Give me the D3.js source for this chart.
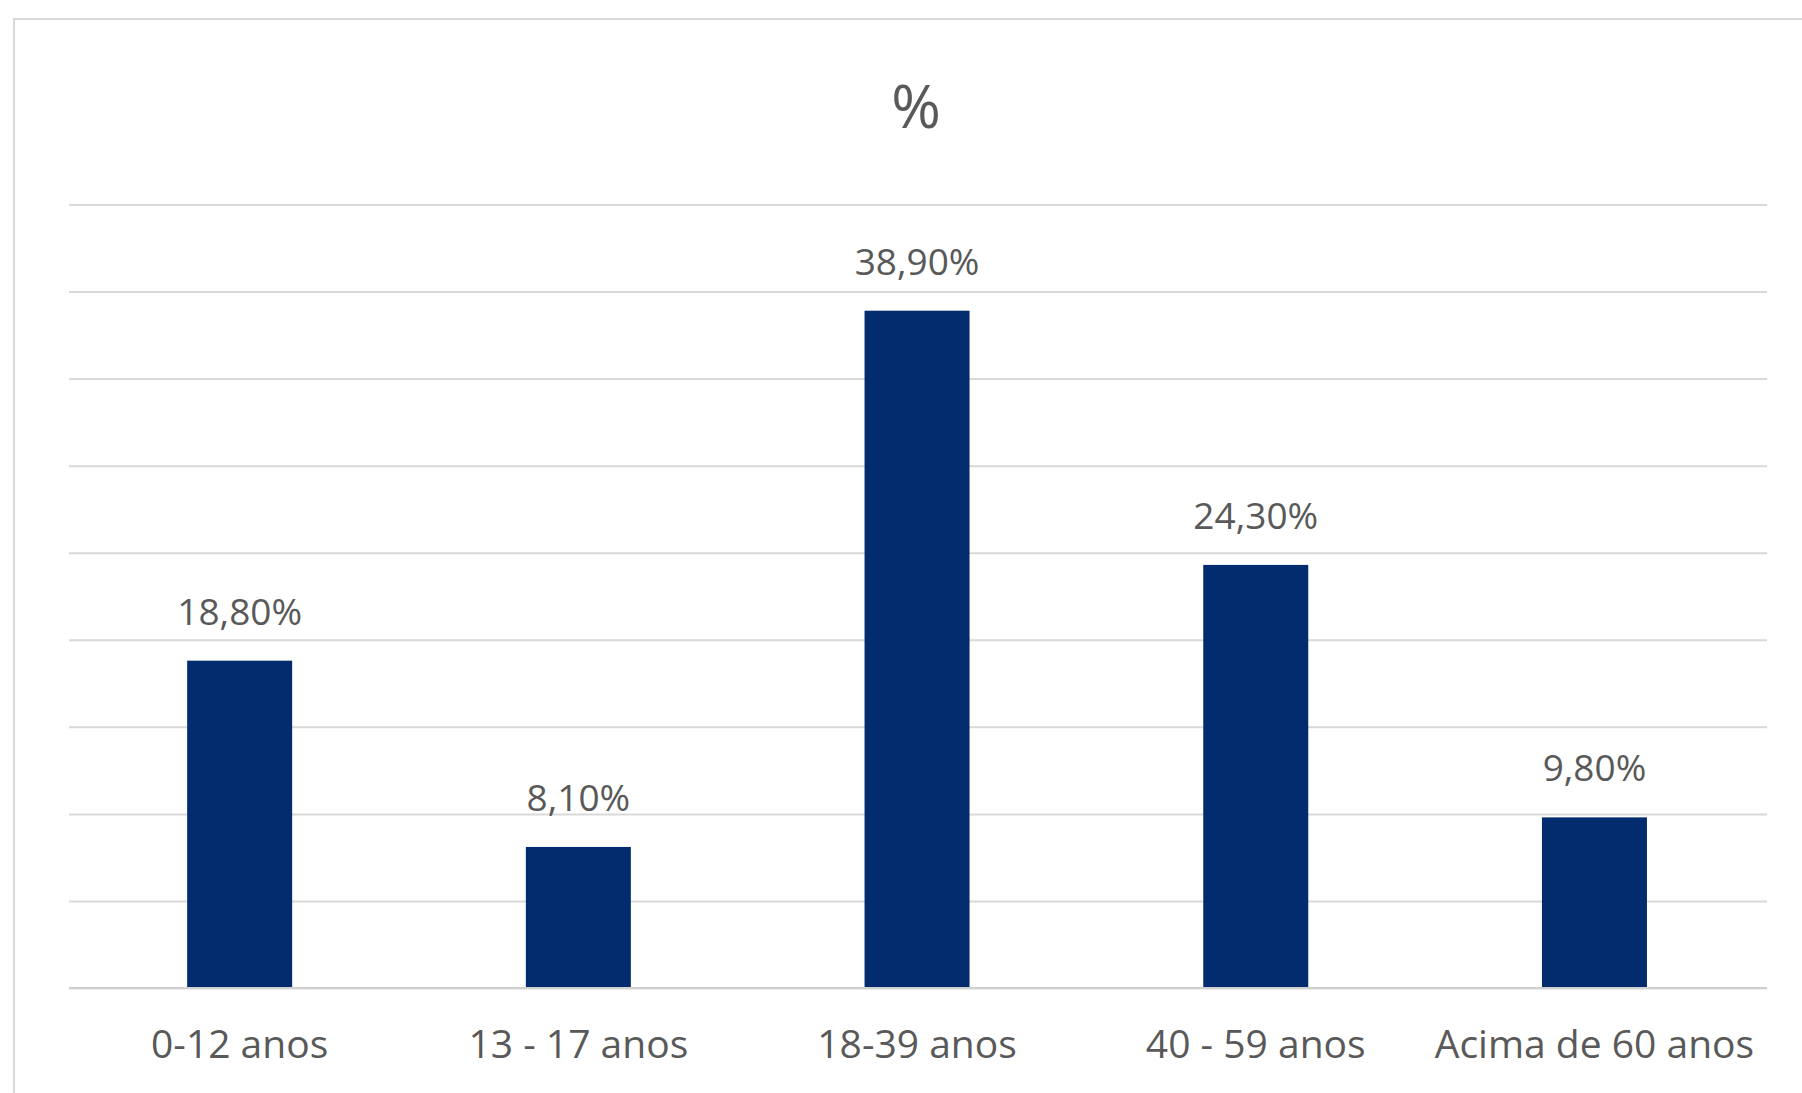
<!DOCTYPE html>
<html>
<head>
<meta charset="utf-8">
<script src="https://cdn.jsdelivr.net/npm/d3@7"></script>
<style>
  html, body { margin: 0; padding: 0; background: #ffffff; }
  svg { display: block; }
</style>
</head>
<body>
<svg id="chart" width="1802" height="1093"></svg>
<script>
// Age groups and their share (%)
const categories = ["0-12 anos", "13 - 17 anos", "18-39 anos", "40 - 59 anos", "Acima de 60 anos"];
const values = [18.8, 8.1, 38.9, 24.3, 9.8];
const valueLabels = ["18,80%", "8,10%", "38,90%", "24,30%", "9,80%"];
const gridTicks = [0, 5, 10, 15, 20, 25, 30, 35, 40, 45];
const title = "%";

const svg = d3.select("#chart");
const W = 1802, H = 1093;
const plot = { left: 69, right: 1767, top: 204.5, bottom: 988 };
const font = "'Open Sans', 'Liberation Sans', sans-serif";

// Chart frame
svg.append("rect")
  .attr("x", 14).attr("y", 19)
  .attr("width", W + 20).attr("height", H + 20)
  .attr("fill", "#ffffff")
  .attr("stroke", "#d9d9d9")
  .attr("stroke-width", 2);

const x = d3.scaleBand()
  .domain(categories)
  .range([70.3, 1763.8])
  .paddingInner(0.69)
  .paddingOuter(0.345);

const y = d3.scaleLinear()
  .domain([0, 45])
  .range([plot.bottom, plot.top]);

// Horizontal gridlines
const yAxis = d3.axisLeft(y)
  .tickValues(gridTicks)
  .tickSize(-(plot.right - plot.left))
  .tickFormat("");
const gy = svg.append("g")
  .attr("transform", `translate(${plot.left},0)`)
  .call(yAxis);
gy.select(".domain").remove();
gy.selectAll(".tick line")
  .attr("stroke", "#d9d9d9")
  .attr("stroke-width", 2);

// Bars
svg.append("g").selectAll("rect")
  .data(values)
  .join("rect")
  .attr("x", (d, i) => x(categories[i]))
  .attr("y", d => y(d))
  .attr("width", x.bandwidth())
  .attr("height", d => y(0) - y(d))
  .attr("fill", "#022c6e");

// Baseline
svg.append("line")
  .attr("x1", plot.left).attr("x2", plot.right)
  .attr("y1", y(0)).attr("y2", y(0))
  .attr("stroke", "#d0d0d0")
  .attr("stroke-width", 2);

// Value labels
svg.append("g").selectAll("text")
  .data(values)
  .join("text")
  .attr("x", (d, i) => x(categories[i]) + x.bandwidth() / 2)
  .attr("y", d => y(d) - 36)
  .attr("text-anchor", "middle")
  .attr("font-family", font)
  .attr("font-size", 37)
  .attr("fill", "#595959")
  .text((d, i) => valueLabels[i]);

// Category axis
const xAxis = d3.axisBottom(x).tickSize(0).tickPadding(0);
const gx = svg.append("g")
  .attr("transform", `translate(0,${plot.bottom})`)
  .call(xAxis);
gx.select(".domain").remove();
gx.selectAll(".tick text")
  .attr("dy", null)
  .attr("y", 70)
  .attr("font-family", font)
  .attr("font-size", 39)
  .attr("fill", "#595959");

// Title
svg.append("text")
  .attr("x", 916)
  .attr("y", 128)
  .attr("text-anchor", "middle")
  .attr("font-family", font)
  .attr("font-size", 60)
  .attr("fill", "#595959")
  .text(title);
</script>
</body>
</html>
